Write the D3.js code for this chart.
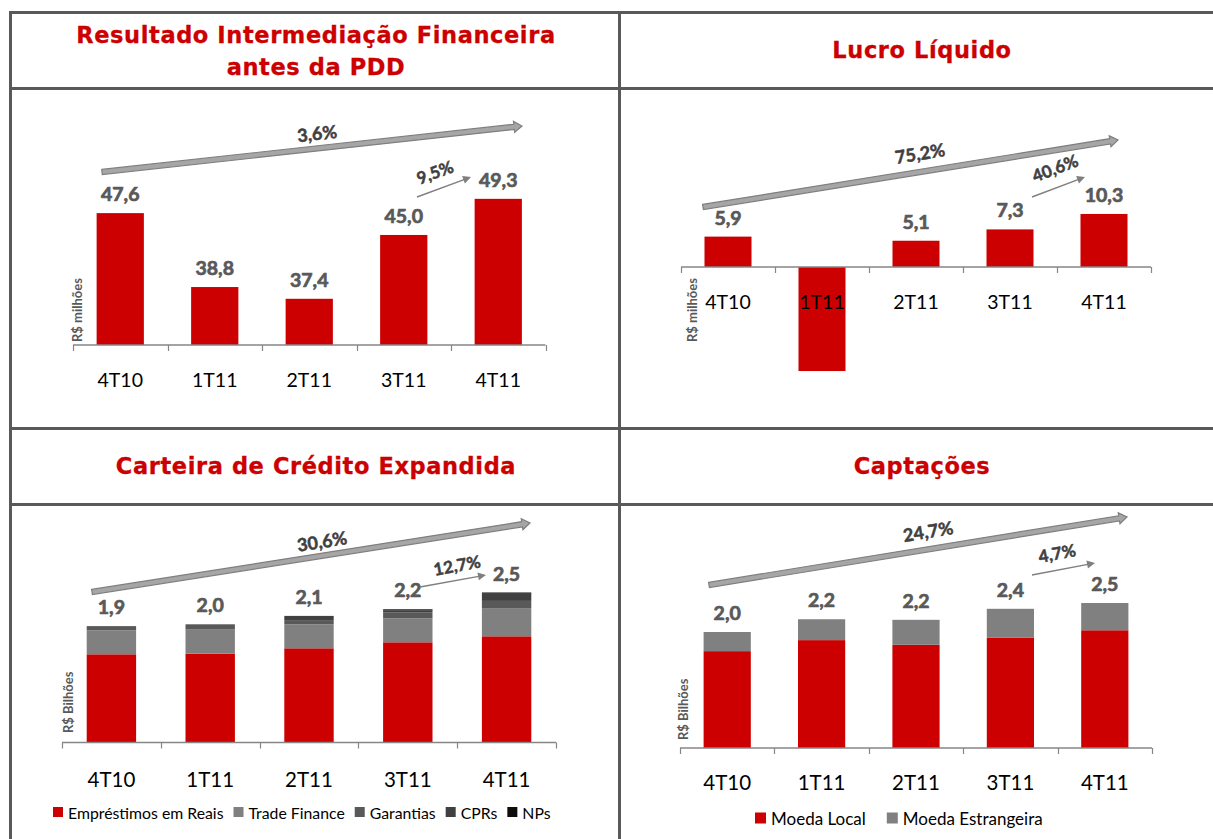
<!DOCTYPE html>
<html>
<head>
<meta charset="utf-8">
<script src="https://cdn.jsdelivr.net/npm/d3@7"></script>
<style>
  html, body { margin: 0; padding: 0; background: #fff; }
  svg { display: block; }
</style>
</head>
<body>
<svg id="chart" width="1213" height="839"></svg>
<script>
// ---------------- DATA ----------------
const categories = ["4T10", "1T11", "2T11", "3T11", "4T11"];

const resultadoValues = [47.6, 38.8, 37.4, 45.0, 49.3];
const resultadoGrowth = ["3,6%", "9,5%"];

const lucroValues = [5.9, -20.2, 5.1, 7.3, 10.3];
const lucroShowLabel = [true, false, true, true, true];
const lucroGrowth = ["75,2%", "40,6%"];

const carteiraSeriesNames = ["Empréstimos em Reais", "Trade Finance", "Garantias", "CPRs", "NPs"];
const emprestimosReais = [1.47, 1.48, 1.57, 1.67, 1.77];
const tradeFinance = [0.40, 0.41, 0.40, 0.40, 0.47];
const garantias = [0.07, 0.08, 0.07, 0.10, 0.12];
const cprs = [0.00, 0.00, 0.07, 0.03, 0.12];
const nps = [0.00, 0.00, 0.00, 0.02, 0.02];
const carteiraTotals = [1.9, 2.0, 2.1, 2.2, 2.5];
const carteiraGrowth = ["30,6%", "12,7%"];

const captacoesSeriesNames = ["Moeda Local", "Moeda Estrangeira"];
const moedaLocal = [1.67, 1.86, 1.78, 1.90, 2.03];
const moedaEstrangeira = [0.33, 0.36, 0.43, 0.50, 0.47];
const captacoesTotals = [2.0, 2.2, 2.2, 2.4, 2.5];
const captacoesGrowth = ["24,7%", "4,7%"];

const titles = [
  ["Resultado Intermediação Financeira", "antes da PDD"],
  ["Lucro Líquido"],
  ["Carteira de Crédito Expandida"],
  ["Captações"]
];
const yTitles = ["R$ milhões", "R$ milhões", "R$ Bilhões", "R$ Bilhões"];

// ---------------- STYLE ----------------
const RED = "#cc0000";
const carteiraColors = ["#cc0000", "#808080", "#595959", "#404040", "#0d0d0d"];
const captacoesColors = ["#cc0000", "#808080"];
const LABEL_GRAY = "#595959";
const PCT_GRAY = "#404040";
const FONT = "Lato, 'Open Sans', sans-serif";
const TITLE_FONT = "'DejaVu Sans', Verdana, sans-serif";

const fmt = v => d3.format(".1f")(v).replace(".", ",");

const svg = d3.select("#chart");
svg.append("rect").attr("width", 1213).attr("height", 839).attr("fill", "#fff");

// ---------------- GRID ----------------
const grid = svg.append("g").attr("stroke", "#595959").attr("stroke-width", 3);
[12.5, 88.5, 428.5, 504.5].forEach(y =>
  grid.append("line").attr("x1", 9).attr("x2", 1213).attr("y1", y).attr("y2", y));
[10.5, 619.5].forEach(x =>
  grid.append("line").attr("x1", x).attr("x2", x).attr("y1", 11).attr("y2", 839));

// ---------------- TITLES ----------------
function title(lines, cx, baselines, size) {
  const t = svg.append("text")
    .attr("text-anchor", "middle")
    .attr("font-family", TITLE_FONT)
    .attr("font-weight", "bold")
    .attr("font-size", size)
    .attr("letter-spacing", 0.6)
    .attr("fill", RED)
    .attr("stroke", RED)
    .attr("stroke-width", 0.3);
  lines.forEach((l, i) => t.append("tspan").attr("x", cx).attr("y", baselines[i]).text(l));
}
title(titles[0], 316, [43, 75], 22.5);
title(titles[1], 922, [58], 22.5);
title(titles[2], 316, [474], 22.5);
title(titles[3], 922, [474], 22.5);

// ---------------- HELPERS ----------------
function drawAxis(x, baseline, r0, r1) {
  const g = svg.append("g");
  g.append("line").attr("x1", r0).attr("x2", r1).attr("y1", baseline).attr("y2", baseline)
    .attr("stroke", "#868686").attr("stroke-width", 1.5);
  const step = x.step();
  for (let i = 0; i <= categories.length; i++) {
    const tx = Math.round(r0 + i * step) + 0.5;
    g.append("line").attr("x1", tx).attr("x2", tx).attr("y1", baseline).attr("y2", baseline + 6)
      .attr("stroke", "#868686").attr("stroke-width", 1.2);
  }
}

function catLabels(x, y, size) {
  svg.append("g").selectAll("text").data(categories).join("text")
    .attr("x", d => x(d) + x.bandwidth() / 2)
    .attr("y", y)
    .attr("text-anchor", "middle")
    .attr("font-family", FONT)
    .attr("font-size", size)
    .attr("fill", "#000")
    .text(d => d);
}

function valueLabels(x, y, vals, labels, show) {
  svg.append("g").selectAll("text").data(categories).join("text")
    .attr("x", (d) => x(d) + x.bandwidth() / 2)
    .attr("y", (d, i) => y(vals[i]) - 12)
    .attr("text-anchor", "middle")
    .attr("font-family", FONT)
    .attr("font-weight", "bold")
    .attr("font-size", 19.5)
    .attr("fill", LABEL_GRAY)
    .attr("stroke", LABEL_GRAY)
    .attr("stroke-width", 0.7)
    .text((d, i) => (show && !show[i]) ? "" : labels[i]);
}

function yTitle(text, cx, bottom) {
  svg.append("text")
    .attr("transform", `translate(${cx + 4.5},${bottom}) rotate(-90)`)
    .attr("font-family", FONT)
    .attr("font-weight", "bold")
    .attr("font-size", 13)
    .attr("fill", LABEL_GRAY)
    .text(text);
}

function bigArrow(p0, p1, label, labelPos) {
  const dx = p1[0] - p0[0], dy = p1[1] - p0[1];
  const len = Math.hypot(dx, dy);
  const ang = Math.atan2(dy, dx) * 180 / Math.PI;
  const hw = 2.6, headW = 5.5, headL = 8;
  const g = svg.append("g").attr("transform", `translate(${p0[0]},${p0[1]}) rotate(${ang})`);
  const path = `M0,${-hw} L${len - headL},${-hw} L${len - headL},${-headW} L${len},0 L${len - headL},${headW} L${len - headL},${hw} L0,${hw} Z`;
  g.append("path").attr("d", path).attr("fill", "#a6a6a6").attr("stroke", "#7f7f7f").attr("stroke-width", 1.2)
    .attr("stroke-linejoin", "miter");
  svg.append("text")
    .attr("transform", `translate(${labelPos[0]},${labelPos[1]}) rotate(${ang})`)
    .attr("text-anchor", "middle")
    .attr("dominant-baseline", "central")
    .attr("font-family", FONT)
    .attr("font-weight", "bold")
    .attr("font-size", 18)
    .attr("fill", PCT_GRAY)
    .attr("stroke", PCT_GRAY)
    .attr("stroke-width", 0.5)
    .text(label);
}

function smallArrow(p0, p1, label, labelPos) {
  const dx = p1[0] - p0[0], dy = p1[1] - p0[1];
  const len = Math.hypot(dx, dy);
  const ang = Math.atan2(dy, dx) * 180 / Math.PI;
  const g = svg.append("g").attr("transform", `translate(${p0[0]},${p0[1]}) rotate(${ang})`);
  g.append("line").attr("x1", 0).attr("x2", len - 6).attr("y1", 0).attr("y2", 0)
    .attr("stroke", "#7f7f7f").attr("stroke-width", 1.4);
  g.append("path").attr("d", `M${len},0 L${len - 8},-4 L${len - 8},4 Z`).attr("fill", "#7f7f7f");
  svg.append("text")
    .attr("transform", `translate(${labelPos[0]},${labelPos[1]}) rotate(${ang})`)
    .attr("text-anchor", "middle")
    .attr("dominant-baseline", "central")
    .attr("font-family", FONT)
    .attr("font-weight", "bold")
    .attr("font-size", 17)
    .attr("fill", PCT_GRAY)
    .attr("stroke", PCT_GRAY)
    .attr("stroke-width", 0.5)
    .text(label);
}

function legend(names, colors, startX, cy, size, sq, gap) {
  let cx = startX;
  names.forEach((n, i) => {
    svg.append("rect").attr("x", cx).attr("y", cy - sq / 2).attr("width", sq).attr("height", sq).attr("fill", colors[i]);
    const t = svg.append("text").attr("x", cx + sq + 5).attr("y", cy).attr("dominant-baseline", "central")
      .attr("font-family", FONT).attr("font-size", size).attr("fill", "#000").text(n);
    cx = cx + sq + 5 + t.node().getComputedTextLength() + gap;
  });
}

// ---------------- PANEL A: Resultado ----------------
{
  const r0 = 73, r1 = 545.5, base = 345;
  const x = d3.scaleBand().domain(categories).range([r0, r1]).paddingInner(0.5).paddingOuter(0.25);
  const y = d3.scaleLinear().domain([31.9, 50]).range([base, base - 18.1 * 8.4]);
  svg.append("g").selectAll("rect").data(resultadoValues).join("rect")
    .attr("x", (d, i) => x(categories[i])).attr("width", x.bandwidth())
    .attr("y", d => y(d)).attr("height", d => base - y(d)).attr("fill", RED);
  drawAxis(x, base, r0, r1);
  catLabels(x, 387, 19.5);
  valueLabels(x, y, resultadoValues, resultadoValues.map(fmt));
  yTitle(yTitles[0], 77, 342);
  bigArrow([102, 172], [522, 126], resultadoGrowth[0], [317, 133]);
  smallArrow([417, 197], [471, 177], resultadoGrowth[1], [435, 172]);
}

// ---------------- PANEL B: Lucro ----------------
{
  const r0 = 681, r1 = 1151, base = 267;
  const x = d3.scaleBand().domain(categories).range([r0, r1]).paddingInner(0.5).paddingOuter(0.25);
  const y = d3.scaleLinear().domain([-21, 11]).range([base + 21 * 5.15, base - 11 * 5.15]);
  svg.append("g").selectAll("rect").data(lucroValues).join("rect")
    .attr("x", (d, i) => x(categories[i])).attr("width", x.bandwidth())
    .attr("y", d => Math.min(y(d), y(0))).attr("height", d => Math.abs(y(d) - y(0))).attr("fill", RED);
  drawAxis(x, base, r0, r1);
  catLabels(x, 309, 19.5);
  valueLabels(x, y, lucroValues, lucroValues.map(fmt), lucroShowLabel);
  yTitle(yTitles[1], 692, 342);
  bigArrow([703, 207], [1118, 140], lucroGrowth[0], [920, 153]);
  smallArrow([1032, 197], [1085, 177], lucroGrowth[1], [1055, 168]);
}

// ---------------- PANEL C: Carteira ----------------
{
  const r0 = 62, r1 = 556, base = 742.5;
  const x = d3.scaleBand().domain(categories).range([r0, r1]).paddingInner(0.5).paddingOuter(0.25);
  const y = d3.scaleLinear().domain([0, 2.6]).range([base, base - 2.6 * 60]);
  const rows = categories.map((c, i) => ({
    cat: c, s0: emprestimosReais[i], s1: tradeFinance[i], s2: garantias[i], s3: cprs[i], s4: nps[i]
  }));
  const stack = d3.stack().keys(["s0", "s1", "s2", "s3", "s4"])(rows);
  svg.append("g").selectAll("g").data(stack).join("g").attr("fill", (d, i) => carteiraColors[i])
    .selectAll("rect").data(d => d).join("rect")
    .attr("x", d => x(d.data.cat)).attr("width", x.bandwidth())
    .attr("y", d => y(d[1])).attr("height", d => y(d[0]) - y(d[1]));
  drawAxis(x, base, r0, r1);
  catLabels(x, 787, 20.5);
  const tops = rows.map(r => r.s0 + r.s1 + r.s2 + r.s3 + r.s4);
  valueLabels(x, y, tops, carteiraTotals.map(fmt));
  yTitle(yTitles[2], 68, 733);
  bigArrow([92, 592], [530, 523], carteiraGrowth[0], [322, 541]);
  smallArrow([420, 587], [486, 575], carteiraGrowth[1], [457, 565]);
  legend(carteiraSeriesNames, carteiraColors, 53, 812, 15.8, 10, 10);
}

// ---------------- PANEL D: Captações ----------------
{
  const r0 = 680, r1 = 1152, base = 748;
  const x = d3.scaleBand().domain(categories).range([r0, r1]).paddingInner(0.5).paddingOuter(0.25);
  const y = d3.scaleLinear().domain([0, 2.6]).range([base, base - 2.6 * 58]);
  const rows = categories.map((c, i) => ({ cat: c, s0: moedaLocal[i], s1: moedaEstrangeira[i] }));
  const stack = d3.stack().keys(["s0", "s1"])(rows);
  svg.append("g").selectAll("g").data(stack).join("g").attr("fill", (d, i) => captacoesColors[i])
    .selectAll("rect").data(d => d).join("rect")
    .attr("x", d => x(d.data.cat)).attr("width", x.bandwidth())
    .attr("y", d => y(d[1])).attr("height", d => y(d[0]) - y(d[1]));
  drawAxis(x, base, r0, r1);
  catLabels(x, 790, 20.5);
  const tops = rows.map(r => r.s0 + r.s1);
  valueLabels(x, y, tops, captacoesTotals.map(fmt));
  yTitle(yTitles[3], 683, 740);
  bigArrow([709, 585], [1127, 517], captacoesGrowth[0], [928, 531]);
  smallArrow([1032, 575], [1095, 563], captacoesGrowth[1], [1057, 553]);
  legend(captacoesSeriesNames, captacoesColors, 755, 818, 17, 11, 21);
}
</script>
</body>
</html>
